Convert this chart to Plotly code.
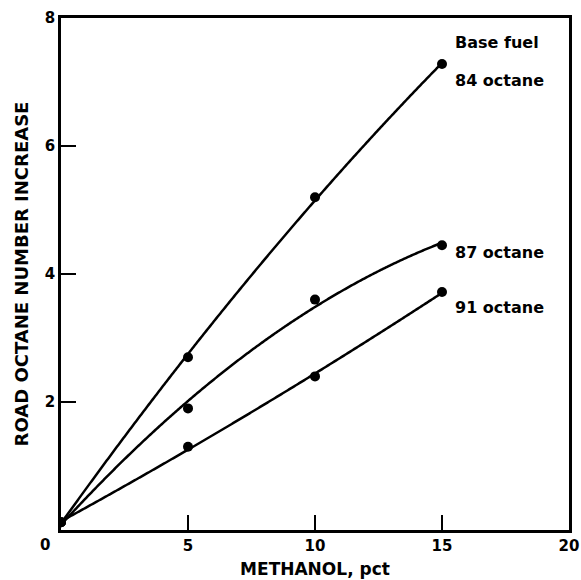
import numpy as np
import plotly.graph_objects as go

# Methanol content of the blend, pct
methanol = [0, 5, 10, 15]

# Road octane number increase for each base fuel
octane_84 = [0.12, 2.7, 5.2, 7.28]
octane_87 = [0.12, 1.9, 3.6, 4.45]
octane_91 = [0.12, 1.3, 2.4, 3.72]

series = [
    ("84 octane", octane_84),
    ("87 octane", octane_87),
    ("91 octane", octane_91),
]

x_ticks = [5, 10, 15, 20]
y_ticks = [2, 4, 6, 8]

FONT = "DejaVu Sans"
fig = go.Figure()

x_fine = np.linspace(0, 15, 300)
for name, vals in series:
    # smooth second-order fit drawn through the measured points
    coef = np.polyfit(methanol, vals, 2)
    fig.add_trace(go.Scatter(
        x=x_fine, y=np.polyval(coef, x_fine), mode="lines",
        line=dict(color="black", width=2.5, simplify=False), showlegend=False,
        hoverinfo="skip",
    ))
    fig.add_trace(go.Scatter(
        x=methanol, y=vals, mode="markers",
        marker=dict(color="black", size=10), showlegend=False, name=name,
    ))

# curve labels at the right end of each series
label_font = dict(family=FONT, size=16, color="black", weight="bold")
fig.add_annotation(x=15.45, y=7.61, xref="x", yref="y", text="Base fuel",
                   showarrow=False, xanchor="left", font=label_font)
for name, vals, dy in [("84 octane", octane_84, -0.25),
                       ("87 octane", octane_87, -0.11),
                       ("91 octane", octane_91, -0.24)]:
    fig.add_annotation(x=15.45, y=vals[-1] + dy, xref="x", yref="y",
                       text=name, showarrow=False, xanchor="left",
                       font=label_font)

# shared origin label below-left of the corner
fig.add_annotation(x=-0.0315, y=-0.029, xref="paper", yref="paper", text="0",
                   showarrow=False, xanchor="center", yanchor="middle",
                   font=dict(family=FONT, size=15, color="black",
                             weight="bold"))

axis_common = dict(
    showgrid=False, zeroline=False, showline=True, linecolor="black",
    linewidth=2.5, mirror=True, ticks="inside", ticklen=15, tickwidth=1.5,
    tickcolor="black", automargin=False,
    tickfont=dict(family=FONT, size=15, color="black", weight="bold"),
)

fig.update_xaxes(
    range=[0, 20], tickvals=x_ticks, ticktext=[str(v) for v in x_ticks],
    title=dict(text="METHANOL, pct", standoff=10,
               font=dict(family=FONT, size=17, color="black", weight="bold")),
    **axis_common,
)
fig.update_yaxes(
    range=[0, 8], tickvals=y_ticks, ticktext=[str(v) for v in y_ticks],
    title=dict(text="ROAD OCTANE NUMBER INCREASE", standoff=12,
               font=dict(family=FONT, size=18, color="black", weight="bold")),
    **axis_common,
)

fig.update_layout(
    width=581, height=580,
    margin=dict(l=61, r=12, t=18, b=50),
    plot_bgcolor="white", paper_bgcolor="white",
)

fig.write_html("out.html")
